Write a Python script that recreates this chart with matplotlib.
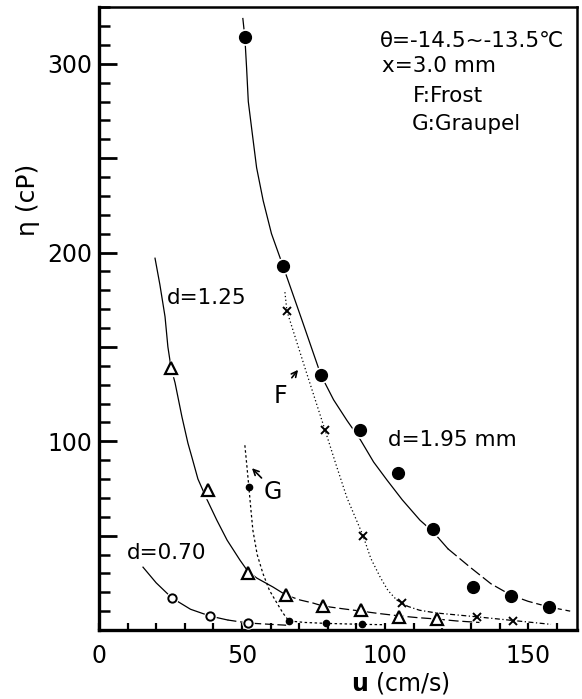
import numpy as np
import matplotlib
matplotlib.use("Agg")
from matplotlib import pyplot as plt
from matplotlib.ticker import MultipleLocator, FuncFormatter

plt.rcParams['font.family'] = ['DejaVu Sans']

# measured points (u in cm/s, eta in cP)
u_195 = [51.0, 64.3, 77.6, 91.3, 104.5, 116.8, 130.8, 144.0, 157.3]
eta_195 = [314, 193, 135, 106, 83, 53.4, 22.8, 18, 12.2]

u_125 = [25.2, 38.1, 52.1, 65.4, 78.3, 91.6, 104.9, 118.2]
eta_125 = [139, 74, 30.2, 18.5, 12.7, 10.6, 6.9, 5.8]

u_070 = [25.5, 38.8, 52.1]
eta_070 = [16.9, 7.4, 3.7]

u_frost = [65.7, 79.0, 92.3, 105.9, 132.2, 144.8]
eta_frost = [169, 106, 50, 14.3, 6.9, 4.8]

u_graupel = [52.4, 66.4, 79.5, 92.0]
eta_graupel = [75.7, 4.8, 3.5, 3.0]

# hand drawn curves
cu_195 = [50.3, 51.0, 51.6, 52.2, 53.6, 55.1, 57.4, 60.3, 64.3, 71.0, 77.6, 82.0, 86.7, 91.3,
          96.0, 100.7, 106.0, 112.2, 116.8, 122.0, 129.7, 137.0, 144.0, 150.0, 157.3, 164.7]
ce_195 = [324, 314, 298, 280, 263, 245, 227.5, 210, 193, 164, 135, 122, 111, 101,
          89, 79.4, 69, 58.2, 52, 43, 33.3, 24.5, 18.5, 15.2, 12.2, 10]

cu_125 = [19.6, 21.3, 23.1, 24.1, 25.2, 26.6, 29.0, 31.1, 32.5, 34.6, 37.8, 41.2, 44.8, 49.3,
          52.1, 55.2, 60.8, 65.4, 70.3, 74.8, 78.3, 85.0, 91.6, 98.0, 104.9, 111.0, 118.2, 125.0, 133.0]
ce_125 = [197, 183, 166, 150, 139, 131, 113, 99, 91.5, 80, 69, 58.2, 47.6, 37,
          31, 27.5, 22.8, 18.5, 15.9, 14.3, 12.7, 11.3, 10.0, 8.7, 7.5, 6.6, 5.8, 4.8, 4.0]

cu_070 = [15.4, 20.0, 25.5, 32.0, 38.8, 45.0, 52.1, 60.0, 66.0]
ce_070 = [33.3, 25, 17, 11, 7.4, 5.3, 3.7, 3.0, 2.5]

cu_frost = [65.0, 65.7, 68.0, 72.4, 79.0, 83.0, 86.7, 92.3, 95.0, 98.3, 101.0, 104.0, 108.0,
            112.0, 118.0, 125.0, 132.0, 145.0, 158.0]
ce_frost = [179, 169, 158, 137, 106, 87, 70, 50, 38, 28, 21, 16, 12.5,
            10.5, 9, 8, 7, 5, 3]

cu_graupel = [51.0, 51.7, 52.4, 53.1, 53.8, 55.3, 57.3, 59.6, 62.2, 64.3, 66.4, 72.0, 79.5, 92.0, 100.0]
ce_graupel = [97.9, 87, 75.7, 64, 52.9, 40, 30, 21, 14.3, 9, 4.8, 4.0, 3.5, 3.0, 2.8]

fig = plt.figure(figsize=(5.82, 6.99), dpi=100)
ax = fig.add_axes([0.170, 0.0987, 0.821, 0.891])

lw = 0.9


def split_plot(xs, ys, cut, solid_style, tail_style):
    xs = np.array(xs)
    ys = np.array(ys)
    i = (xs <= cut).sum()
    ax.plot(xs[:i], ys[:i], color='black', lw=lw, **solid_style)
    ax.plot(xs[i - 1:], ys[i - 1:], color='black', lw=lw, **tail_style)


# curves
split_plot(cu_195, ce_195, 125, dict(ls='-'), dict(ls=(0, (9, 3))))
split_plot(cu_125, ce_125, 66, dict(ls='-'), dict(ls=(0, (8, 3))))
split_plot(cu_070, ce_070, 46, dict(ls='-'), dict(ls=(0, (7, 3))))
split_plot(cu_frost, ce_frost, 106, dict(ls=(0, (1, 2))), dict(ls=(0, (4, 2, 1, 2))))
ax.plot(cu_graupel, ce_graupel, color='black', lw=lw, ls=(0, (2, 2)))

# markers with a small white halo
ax.plot(u_195, eta_195, 'o', ms=11, color='white', zorder=3)
ax.plot(u_195, eta_195, 'o', ms=8.5, color='black', zorder=4)
ax.plot(u_125, eta_125, '^', ms=11, color='white', zorder=3)
ax.plot(u_125, eta_125, '^', ms=8, mfc='white', mec='black', mew=1.6, zorder=4)
ax.plot(u_070, eta_070, 'o', ms=8, color='white', zorder=3)
ax.plot(u_070, eta_070, 'o', ms=6, mfc='white', mec='black', mew=1.4, zorder=4)
ax.plot(u_frost, eta_frost, 'x', ms=6, color='black', mew=1.4, zorder=4)
ax.plot(u_graupel, eta_graupel, 'o', ms=4.5, color='black', zorder=4)

# text
fs = 15.5
ax.text(98.3, 312, 'θ=-14.5~-13.5℃', fontsize=fs, va='center', ha='left')
ax.text(98.9, 299, 'x=3.0 mm', fontsize=fs, va='center', ha='left')
ax.text(109.8, 283, 'F:Frost', fontsize=fs, va='center', ha='left')
ax.text(109.4, 268, 'G:Graupel', fontsize=fs, va='center', ha='left')

ax.text(23.8, 176, 'd=1.25', fontsize=fs, va='center', ha='left')
ax.text(9.8, 40.7, 'd=0.70', fontsize=fs, va='center', ha='left')
ax.text(101, 100.5, 'd=1.95 mm', fontsize=fs, va='center', ha='left')

ax.text(63.3, 124, 'F', fontsize=17, va='center', ha='center')
ax.annotate('', xy=(70.2, 139), xytext=(66.8, 132.5),
            arrowprops=dict(arrowstyle='->', color='black', lw=1.2))
ax.text(60.8, 73, 'G', fontsize=17, va='center', ha='center')
ax.annotate('', xy=(52.8, 86.8), xytext=(57.5, 79.5),
            arrowprops=dict(arrowstyle='->', color='black', lw=1.2))

# axes
ax.set_xlim(0, 167)
ax.set_ylim(0, 330)

ax.xaxis.set_major_locator(MultipleLocator(50))
ax.xaxis.set_minor_locator(MultipleLocator(10))
ax.yaxis.set_major_locator(MultipleLocator(50))
ax.yaxis.set_minor_locator(MultipleLocator(10))
ax.yaxis.set_major_formatter(FuncFormatter(lambda v, p: '' if (v % 100 or v == 0) else f'{int(v)}'))

ax.tick_params(axis='x', which='both', direction='in', length=5, width=1.6,
               labelsize=17, pad=10, top=False)
ax.tick_params(axis='y', which='major', direction='in', length=13, width=2,
               labelsize=17, pad=5, right=False)
ax.tick_params(axis='y', which='minor', direction='in', length=8, width=1.8, right=False)

for side in ['left', 'bottom']:
    ax.spines[side].set_linewidth(2.4)
for side in ['top', 'right']:
    ax.spines[side].set_linewidth(1.8)

ax.set_xlabel(r'$\mathbf{u}$ (cm/s)', fontsize=17)
ax.set_ylabel('η (cP)', fontsize=18)
ax.xaxis.set_label_coords(0.63, -0.064)
ax.yaxis.set_label_coords(-0.123, 0.69)

fig.savefig('out.png', dpi=100)
